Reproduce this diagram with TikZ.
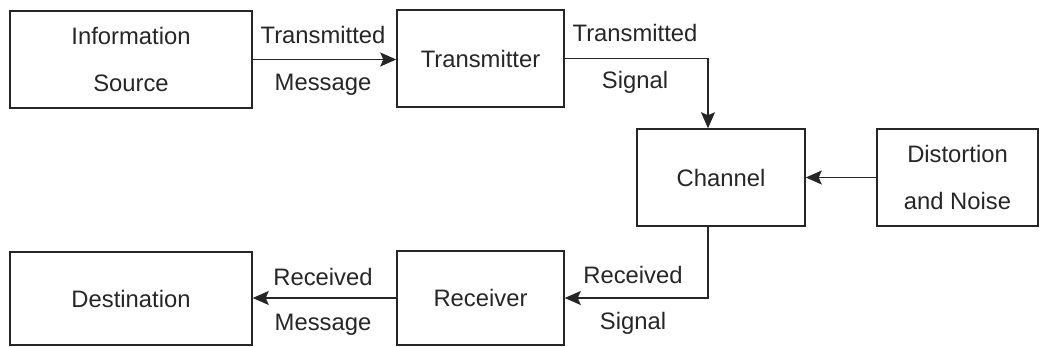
\documentclass[tikz,border=0pt]{standalone}
\usepackage{fontspec}
\setmainfont{Liberation Sans}
\usetikzlibrary{arrows.meta,calc}
\definecolor{ink}{HTML}{262626}
\tikzset{
  x=1pt, y=-1pt,
  block/.style={draw=ink, line width=1.5pt, inner sep=0pt, align=center,
    text=ink, font=\fontsize{23.8}{47}\selectfont},
  lbl/.style={inner sep=0pt, text=ink, font=\fontsize{23.8}{28}\selectfont},
  flow/.style={draw=ink, line width=1.5pt,
    -{Stealth[length=16pt,width=14pt,inset=3pt]}}
}
\begin{document}
\begin{tikzpicture}
\useasboundingbox (0,0) rectangle (1041,347);
% blocks
\node[block, minimum width=242pt, minimum height=97pt] (info)  at (131,59.5)   {Information\\Source};
\node[block, minimum width=167pt, minimum height=97pt] (trans) at (480.5,58.5) {Transmitter};
\node[block, minimum width=168pt, minimum height=97pt] (chan)  at (721,177.5)  {Channel};
\node[block, minimum width=161pt, minimum height=97pt] (noise) at (957.5,177.5){Distortion\\and Noise};
\node[block, minimum width=242pt, minimum height=93pt] (dest)  at (131,298.5)  {Destination};
\node[block, minimum width=167pt, minimum height=94pt] (recv)  at (480.5,298)  {Receiver};
% vertical line through the channel's upper and lower connections
\coordinate (cin)  at ($(chan.north)+(-13,0)$);
\coordinate (cout) at ($(chan.south)+(-13,0)$);
% connectors
\draw[flow] (info.east) -- (info.east -| trans.west);
\draw[flow] (trans.east) -| (cin);
\draw[flow] (noise.west) -- (noise.west -| chan.east);
\draw[flow] (cout) |- (recv.east);
\draw[flow] (recv.west) -- (recv.west -| dest.east);
% connector labels
\node[lbl] (tm1) at (323,35)  {Transmitted};
\node[lbl] (tm2) at (323,85)  {Message};
\node[lbl] (ts1) at (635,33)  {Transmitted};
\node[lbl] (ts2) at (635,82)  {Signal};
\node[lbl] (rs1) at (633,275) {Received};
\node[lbl] (rs2) at (633,323) {Signal};
\node[lbl] (rm1) at (323,277) {Received};
\node[lbl] (rm2) at (323,325) {Message};
\end{tikzpicture}
\end{document}
